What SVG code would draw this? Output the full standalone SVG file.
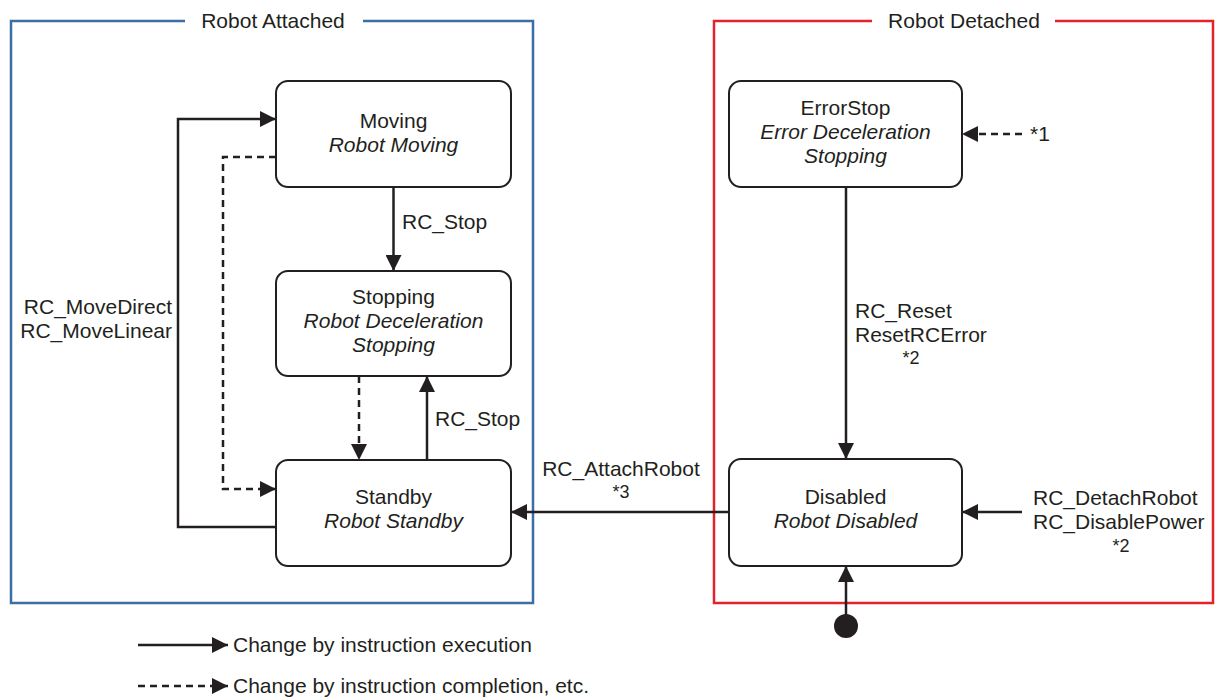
<svg xmlns="http://www.w3.org/2000/svg" width="1217" height="698" viewBox="0 0 1217 698">
<style>
text{font-family:"Liberation Sans",Arial,sans-serif;font-size:21px;fill:#231f20}
.c{text-anchor:middle}
.i{font-style:italic}
.s{font-size:18px}
.box{fill:#fff;stroke:#231f20;stroke-width:2}
.ln{fill:none;stroke:#231f20;stroke-width:2.5}
.d{stroke-dasharray:7 5}
.frame{fill:none;stroke-width:2.5}
</style>
<defs>
<marker id="ah" viewBox="0 0 16 16" refX="16" refY="8" markerWidth="16" markerHeight="16" markerUnits="userSpaceOnUse" orient="auto">
<path d="M0,0 L16,8 L0,16 z" fill="#231f20"/>
</marker>
</defs>
<rect width="1217" height="698" fill="#fff"/>
<g id="frame-attached">
<path class="frame" stroke="#3a6ea5" d="M185,21 H11 V603 H533 V21 H363"/>
<text class="c" x="273" y="28">Robot Attached</text>
</g>
<g id="frame-detached">
<path class="frame" stroke="#e2232a" d="M872,21 H714 V603 H1213 V21 H1055"/>
<text class="c" x="964" y="28">Robot Detached</text>
</g>
<g id="connectors">
<path class="ln" marker-end="url(#ah)" d="M393.5,187 V271"/>
<path class="ln" marker-end="url(#ah)" d="M427,460 V376"/>
<path class="ln d" marker-end="url(#ah)" d="M359,376 V460"/>
<path class="ln d" marker-end="url(#ah)" d="M276,157 H223 V489 H276"/>
<path class="ln" marker-end="url(#ah)" d="M276,527 H178 V119 H276"/>
<path class="ln" marker-end="url(#ah)" d="M729,512 H511"/>
<path class="ln" marker-end="url(#ah)" d="M846,187 V459"/>
<path class="ln" marker-end="url(#ah)" d="M1022,512 H962"/>
<path class="ln" marker-end="url(#ah)" d="M846,620 V566"/>
<path class="ln d" marker-end="url(#ah)" d="M1022,134 H962"/>
<text x="402" y="229">RC_Stop</text>
<text x="435" y="426">RC_Stop</text>
<text x="172" y="314" text-anchor="end">RC_MoveDirect</text>
<text x="172" y="338" text-anchor="end">RC_MoveLinear</text>
<text class="c" x="621" y="476">RC_AttachRobot</text>
<text class="c s" x="621" y="498">*3</text>
<text x="855" y="318">RC_Reset</text>
<text x="855" y="342">ResetRCError</text>
<text class="c s" x="911" y="364">*2</text>
<text x="1033" y="505">RC_DetachRobot</text>
<text x="1033" y="529">RC_DisablePower</text>
<text class="c s" x="1121" y="552">*2</text>
<text x="1030" y="141">*1</text>
</g>
<g id="initial">
<circle cx="846" cy="626" r="12" fill="#231f20"/>
</g>
<g id="moving">
<rect class="box" x="276" y="81" width="235" height="106" rx="12"/>
<text class="c" x="393.5" y="128">Moving</text>
<text class="c i" x="393.5" y="152">Robot Moving</text>
</g>
<g id="stopping">
<rect class="box" x="276" y="271" width="235" height="105" rx="12"/>
<text class="c" x="393.5" y="304">Stopping</text>
<text class="c i" x="393.5" y="328">Robot Deceleration</text>
<text class="c i" x="393.5" y="352">Stopping</text>
</g>
<g id="standby">
<rect class="box" x="276" y="460" width="235" height="106" rx="12"/>
<text class="c" x="393.5" y="504">Standby</text>
<text class="c i" x="393.5" y="528">Robot Standby</text>
</g>
<g id="errorstop">
<rect class="box" x="729" y="81" width="233" height="106" rx="12"/>
<text class="c" x="845.5" y="115">ErrorStop</text>
<text class="c i" x="845.5" y="139">Error Deceleration</text>
<text class="c i" x="845.5" y="163">Stopping</text>
</g>
<g id="disabled">
<rect class="box" x="729" y="459" width="233" height="107" rx="12"/>
<text class="c" x="845.5" y="504">Disabled</text>
<text class="c i" x="845.5" y="528">Robot Disabled</text>
</g>
<g id="legend">
<path class="ln" marker-end="url(#ah)" d="M138,645 H228"/>
<path class="ln d" marker-end="url(#ah)" d="M138,686 H228"/>
<text x="233" y="652">Change by instruction execution</text>
<text x="233" y="693">Change by instruction completion, etc.</text>
</g>
</svg>
